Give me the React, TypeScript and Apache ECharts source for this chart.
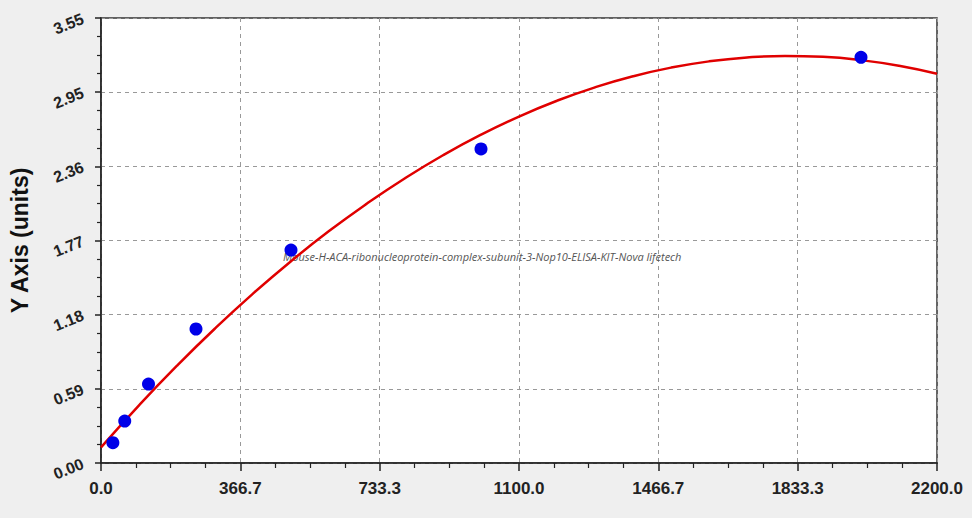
import React, { useEffect, useRef } from 'react';
import * as echarts from 'echarts';

const standardX = [31.25, 62.5, 125, 250, 500, 1000, 2000];
const standardY = [0.162, 0.335, 0.63, 1.069, 1.699, 2.505, 3.236];

// fitted curve, every 100 units
const curveX = [0, 100, 200, 300, 400, 500, 600, 700, 800, 900, 1000, 1100, 1200, 1300, 1400, 1500, 1600, 1700, 1800, 1900, 2000, 2100, 2200];
const curveY = [0.125, 0.46, 0.776, 1.073, 1.351, 1.61, 1.85, 2.07, 2.272, 2.455, 2.619, 2.764, 2.89, 2.997, 3.085, 3.154, 3.204, 3.235, 3.247, 3.24, 3.214, 3.169, 3.105];

const yTickLabels = ['0.00', '0.59', '1.18', '1.77', '2.36', '2.95', '3.55'];
const xMax = 2200;
const yMax = 3.55;

const watermark = 'Mouse-H-ACA-ribonucleoprotein-complex-subunit-3-Nop10-ELISA-KIT-Nova lifetech';

const App: React.FC = () => {
  const chartRef = useRef<HTMLDivElement>(null);

  useEffect(() => {
    if (!chartRef.current) return;
    document.body.style.margin = '0';
    const chart = echarts.init(chartRef.current, undefined, { renderer: 'svg' });

    const yInterval = yMax / 6;

    chart.setOption({
      animation: false,
      backgroundColor: '#efefef',
      grid: {
        left: 100,
        top: 18,
        right: 35,
        bottom: 55,
        show: true,
        backgroundColor: '#fff',
        borderColor: '#333',
        borderWidth: 1.5,
      },
      xAxis: {
        type: 'value',
        min: 0,
        max: xMax,
        interval: xMax / 6,
        axisLine: { show: true, lineStyle: { color: '#222', width: 1.5 } },
        axisTick: { show: true, length: 8, lineStyle: { color: '#222', width: 1.5 } },
        minorTick: { show: true, splitNumber: 4, length: 5, lineStyle: { color: '#222', width: 1.2 } },
        splitLine: { show: true, lineStyle: { color: '#999', type: [4, 4], width: 1 } },
        axisLabel: {
          fontFamily: 'Liberation Sans, Arial, sans-serif',
          fontWeight: 'bold',
          fontSize: 17,
          color: '#222',
          margin: 17,
          formatter: (v: number) => v.toFixed(1),
        },
      },
      yAxis: {
        type: 'value',
        min: 0,
        max: yMax,
        interval: yInterval,
        name: 'Y Axis (units)',
        nameLocation: 'middle',
        nameGap: 70,
        nameTextStyle: {
          fontFamily: 'Liberation Sans, Arial, sans-serif',
          fontWeight: 'bold',
          fontSize: 23,
          color: '#111',
        },
        axisLine: { show: true, lineStyle: { color: '#222', width: 1.5 } },
        axisTick: { show: true, length: 6, lineStyle: { color: '#222', width: 1.5 } },
        minorTick: { show: true, splitNumber: 4, length: 4, lineStyle: { color: '#222', width: 1.2 } },
        splitLine: { show: true, lineStyle: { color: '#999', type: [4, 4], width: 1 } },
        axisLabel: {
          rotate: 22,
          fontFamily: 'Liberation Sans, Arial, sans-serif',
          fontWeight: 'bold',
          fontSize: 16,
          color: '#222',
          margin: 18,
          formatter: (v: number) => yTickLabels[Math.round(v / yInterval)] ?? '',
        },
      },
      graphic: [
        {
          type: 'text',
          left: 283,
          top: 251,
          z: 1,
          style: {
            text: watermark,
            fontFamily: 'Open Sans, sans-serif',
            fontStyle: 'italic',
            fontSize: 11,
            fill: '#555',
          },
        },
      ],
      series: [
        {
          type: 'line',
          data: curveX.map((x, i) => [x, curveY[i]]),
          smooth: true,
          showSymbol: false,
          lineStyle: { color: '#e00000', width: 2.5 },
          z: 3,
        },
        {
          type: 'scatter',
          data: standardX.map((x, i) => [x, standardY[i]]),
          symbolSize: 13,
          itemStyle: { color: '#0000e8', opacity: 1 },
          z: 4,
        },
      ],
    });

    return () => {
      chart.dispose();
    };
  }, []);

  return <div ref={chartRef} style={{ width: 972, height: 518 }} />;
};

export default App;
